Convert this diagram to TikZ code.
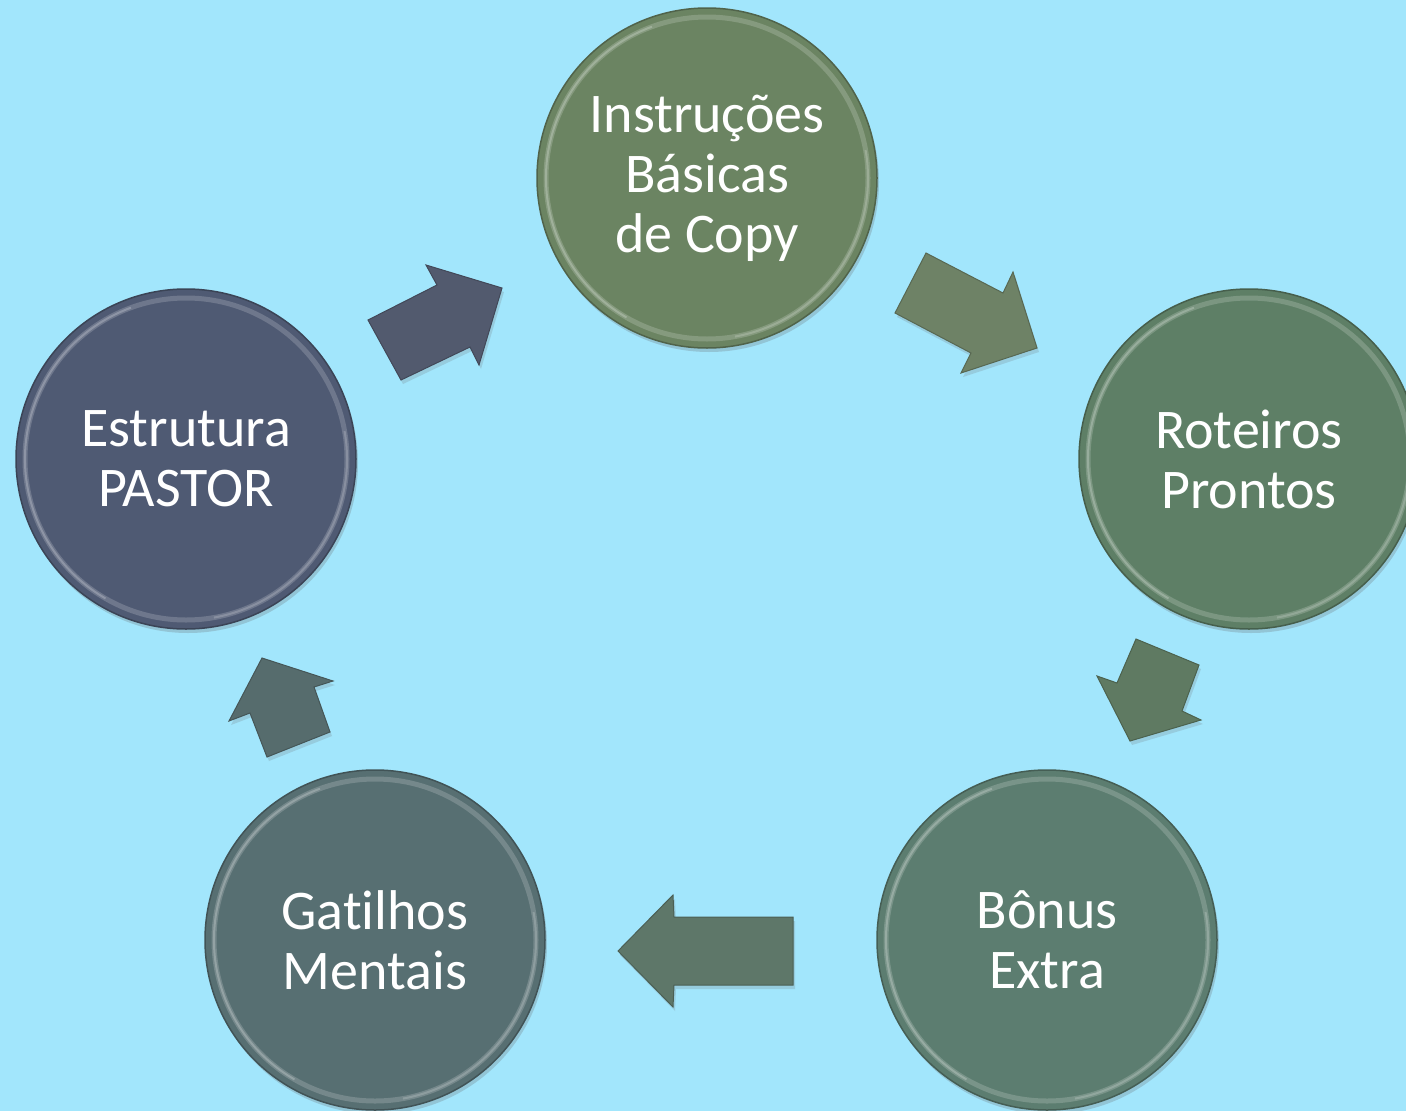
\documentclass[tikz,border=0pt]{standalone}
\usepackage{fontspec}
\setmainfont{Carlito}[Ligatures={NoCommon}]
\usetikzlibrary{shadows}
\definecolor{bg}{HTML}{A2E6FC}
\definecolor{cA}{HTML}{6B8462}
\definecolor{cB}{HTML}{5E7F66}
\definecolor{cC}{HTML}{5C7D70}
\definecolor{cD}{HTML}{576F72}
\definecolor{cE}{HTML}{4F5A73}
\definecolor{aA}{HTML}{525A6E}
\definecolor{aB}{HTML}{6E8266}
\definecolor{aC}{HTML}{5F7A62}
\definecolor{aD}{HTML}{5E7769}
\definecolor{aE}{HTML}{566C6D}
\tikzset{
  bubble/.style={circle, minimum size=340pt, inner sep=0pt, text=white,
    font=\fontsize{56}{60}\selectfont, align=center, line width=1.5pt,
    draw=#1!75!black, fill=#1,
    drop shadow={shadow xshift=2pt, shadow yshift=-4pt, opacity=0.25, fill=black!60}},
  blockarrow/.style={draw=#1!80!black, line width=1pt, fill=#1, line join=miter,
    drop shadow={shadow xshift=2pt, shadow yshift=-4pt, opacity=0.2, fill=black!60}},
  rim/.style={line width=5pt, white, opacity=0.18},
}
\begin{document}
\begin{tikzpicture}[x=1pt,y=-1pt]
\fill[bg] (0,0) rectangle (1406,1111);
\useasboundingbox (0,0) rectangle (1406,1111);
\clip (0,0) rectangle (1406,1111);
% circles
\node[bubble=cA] (ins) at (707,178) {Instruções\\Básicas\\de Copy};
\node[bubble=cB] (rot) at (1249,459) {Roteiros\\Prontos};
\node[bubble=cC] (bon) at (1047,940) {Bônus\\Extra};
\node[bubble=cD] (gat) at (375,940) {Gatilhos\\Mentais};
\node[bubble=cE] (est) at (186,459) {Estrutura\\PASTOR};
\foreach \n in {ins,rot,bon,gat,est}{
  \draw[rim] (\n.center) circle (161pt);
  \draw[line width=2pt, white, opacity=0.22] (\n.center) ++(110:161pt) arc (110:240:161pt);
  \draw[line width=2pt, white, opacity=0.18] (\n.center) ++(-80:161pt) arc (-80:10:161pt);
}
% block arrows
\draw[blockarrow=aA] (368,320) -- (437,285) -- (426,265) -- (502,288) -- (479,365) -- (470,347) -- (401,380) -- cycle;
\draw[blockarrow=aB] (926,253) -- (1003,293) -- (1013,272) -- (1037,348) -- (961,373) -- (971,353) -- (895,313) -- cycle;
\draw[blockarrow=aC] (1136,639) -- (1199,665) -- (1182,711) -- (1201,720) -- (1130,741) -- (1097,676) -- (1117,683) -- cycle;
\draw[blockarrow=aD] (618,951) -- (673,895) -- (674,917) -- (793,917) -- (793,985) -- (674,985) -- (673,1007) -- cycle;
\draw[blockarrow=aE] (262,658) -- (333,681) -- (314,687) -- (330,732) -- (267,757) -- (250,713) -- (229,721) -- cycle;
\end{tikzpicture}
\end{document}
